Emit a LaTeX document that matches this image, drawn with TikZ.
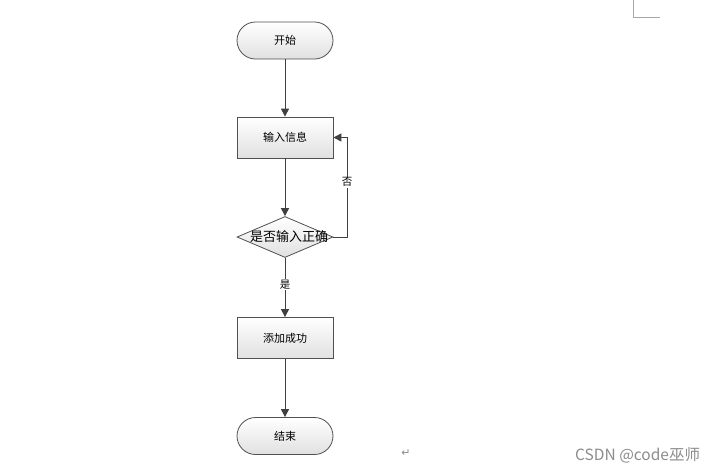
\documentclass[tikz,border=0pt]{standalone}
\usepackage{fontspec}
\newfontfamily\cjk{Noto Sans CJK SC}
\newfontfamily\djv{DejaVu Sans}
\usetikzlibrary{shapes.geometric,arrows.meta}
\definecolor{linec}{HTML}{404040}
\definecolor{edgec}{HTML}{505050}
\tikzset{
  x=1pt,y=-1pt,
  shapefill/.style={draw=edgec, line width=0.8pt, top color=white, bottom color=black!12},
  terminal/.style={shapefill, rounded corners=18.5pt, minimum width=96pt, minimum height=37pt, inner sep=0pt, font=\cjk\fontsize{11}{12}\selectfont},
  procbox/.style={shapefill, rectangle, minimum width=96pt, minimum height=41pt, inner sep=0pt, font=\cjk\fontsize{11}{12}\selectfont},
  decide/.style={shapefill, diamond, aspect=2.4, minimum width=96pt, minimum height=41pt, inner sep=0pt},
  conn/.style={draw=linec, line width=1pt, -{Triangle[length=8pt,width=8pt]}},
  lbl/.style={fill=white, inner sep=1pt, font=\cjk\fontsize{10.5}{12}\selectfont}
}
\begin{document}
\begin{tikzpicture}
\useasboundingbox (0,0) rectangle (716,472);
\fill[white] (0,0) rectangle (716,472);
\node[terminal] (start) at (285,40.5) {开始};
\node[procbox] (input) at (285,137.5) {输入信息};
\node[decide] (check) at (285,237) {};
\node[font=\cjk\fontsize{13}{14}\selectfont, inner sep=0pt] (checkt) at (289,237) {是否输入正确};
\node[procbox] (add) at (285,338) {添加成功};
\node[terminal] (end) at (285,436) {结束};
\coordinate (c1) at (347,237);
\coordinate (c2) at (347,137.5);
\draw[conn] (start) -- (input);
\draw[conn] (input) -- (check);
\draw[conn] (check.south) -- node[lbl, pos=0.45] {是} (add.north);
\draw[conn] (add) -- (end);
\draw[conn] (check.east) -- (c1) -- node[lbl, pos=0.55] {否} (c2) -- (input.east);
\draw[black!35, line width=1pt] (633.5,0) -- (633.5,17) -- (660,17);
\node[font=\djv\fontsize{11}{12}\selectfont, text=black!45] (ret) at (406,453) {↵};
\node[font=\cjk\fontsize{15.5}{17}\selectfont, text=black!45, anchor=west, inner sep=0pt] (wm) at (575,455) {CSDN @code巫师};
\end{tikzpicture}
\end{document}
